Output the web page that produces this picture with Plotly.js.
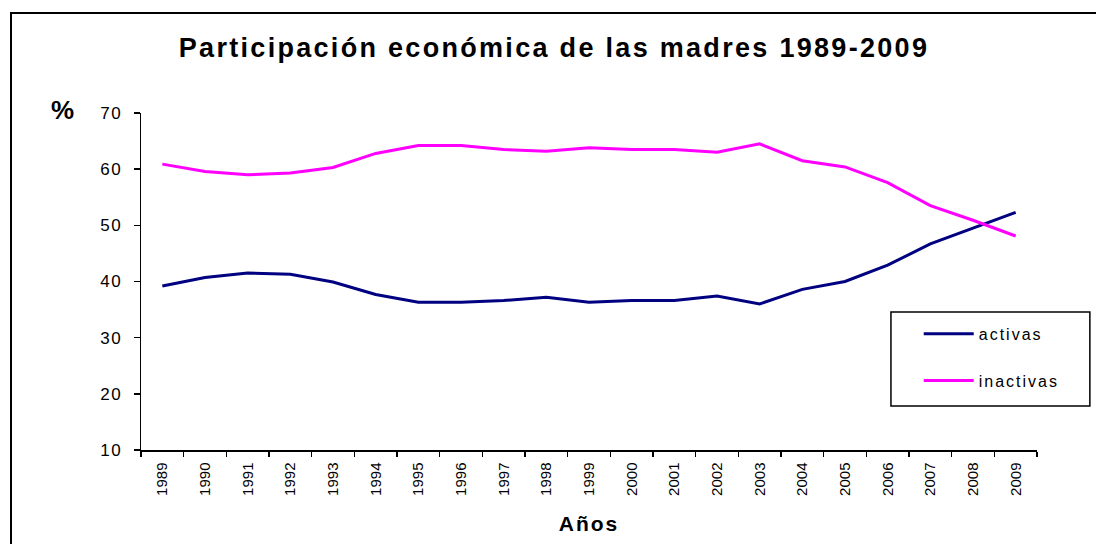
<!DOCTYPE html>
<html>
<head>
<meta charset="utf-8">
<script src="https://cdn.plot.ly/plotly-3.0.1.min.js"></script>
<style>
  html, body { margin: 0; padding: 0; background: #ffffff; }
  #frame { position: absolute; left: 10px; top: 12px; width: 1200px; height: 600px;
           border-left: 2px solid #000; border-top: 2px solid #000; pointer-events: none; }
  #chart { position: absolute; left: 0; top: 0; width: 1096px; height: 544px; }
  #chart text.gtitle { letter-spacing: 2.3px; }
  #chart text.xtitle { letter-spacing: 2px; }
  #chart text.legendtext { letter-spacing: 2px; }
  #chart g.ytick text { letter-spacing: 1.5px; }
  #chart .legend .scrollbox { clip-path: none !important; }
</style>
</head>
<body>
<div id="frame"></div>
<div id="chart"></div>
<script>
const years = ["1989","1990","1991","1992","1993","1994","1995","1996","1997","1998","1999",
               "2000","2001","2002","2003","2004","2005","2006","2007","2008","2009"];
const activas   = [39.2, 40.7, 41.5, 41.3, 39.9, 37.7, 36.3, 36.3, 36.6, 37.2, 36.3,
                   36.6, 36.6, 37.4, 36.0, 38.6, 40.0, 42.9, 46.7, 49.5, 52.3];
const inactivas = [60.9, 59.6, 59.0, 59.3, 60.3, 62.8, 64.2, 64.2, 63.5, 63.2, 63.8,
                   63.5, 63.5, 63.0, 64.5, 61.5, 60.4, 57.6, 53.5, 50.9, 48.1];
const seriesNames = ["activas", "inactivas"];
const yTicks = [10, 20, 30, 40, 50, 60, 70];

const font = "Liberation Sans, Arial, sans-serif";

const data = [
  { x: years, y: activas, name: seriesNames[0], type: "scatter", mode: "lines",
    line: { color: "#000080", width: 3 }, legendgroup: "a" },
  { x: years, y: inactivas, name: seriesNames[1], type: "scatter", mode: "lines",
    line: { color: "#ff00ff", width: 3 }, legendgroup: "b" }
];

const layout = {
  width: 1096, height: 544,
  paper_bgcolor: "rgba(0,0,0,0)", plot_bgcolor: "rgba(0,0,0,0)",
  margin: { l: 141, r: 59, t: 113, b: 94 },
  font: { family: font, color: "#000", size: 15 },
  title: { text: "<b>Participación económica de las madres 1989-2009</b>",
           font: { family: font, size: 27, color: "#000" },
           x: 0.5055, xref: "container", xanchor: "center", y: 0.913, yanchor: "middle" },
  xaxis: {
    type: "category", range: [-0.5, 20.5], tickson: "boundaries",
    ticks: "outside", ticklen: 5, tickwidth: 1.5, tickcolor: "#000",
    showline: true, linecolor: "#000", linewidth: 1.5, showgrid: false, zeroline: false,
    tickangle: -90, tickfont: { family: font, size: 15 }, ticklabelstandoff: 5,
    title: { text: "<b>Años</b>", font: { family: font, size: 21 }, standoff: 21 }
  },
  yaxis: {
    range: [10, 70], tickvals: yTicks, ticks: "outside", ticklen: 6, tickwidth: 1.5,
    tickcolor: "#000", showline: true, linecolor: "#000", linewidth: 1.5,
    showgrid: false, zeroline: false, ticklabelstandoff: 8,
    tickfont: { family: font, size: 17 }
  },
  shapes: [
    { type: "rect", xref: "paper", yref: "paper", x0: 0.837, x1: 1.059, y0: 0.1306, y1: 0.4095,
      line: { color: "#000", width: 1.5 }, fillcolor: "#ffffff", layer: "below" }
  ],
  annotations: [
    { text: "<b>%</b>", xref: "paper", yref: "paper", x: -0.088, y: 1.009,
      xanchor: "center", yanchor: "middle", showarrow: false,
      font: { family: font, size: 26, color: "#000" } }
  ],
  showlegend: true,
  legend: {
    x: 0.868, y: 0.395, xanchor: "left", yanchor: "top",
    bgcolor: "rgba(0,0,0,0)", borderwidth: 0,
    font: { family: font, size: 16 }, traceorder: "grouped", tracegroupgap: 23,
    itemwidth: 50
  }
};

Plotly.newPlot("chart", data, layout, { displayModeBar: false, staticPlot: true });
</script>
</body>
</html>
